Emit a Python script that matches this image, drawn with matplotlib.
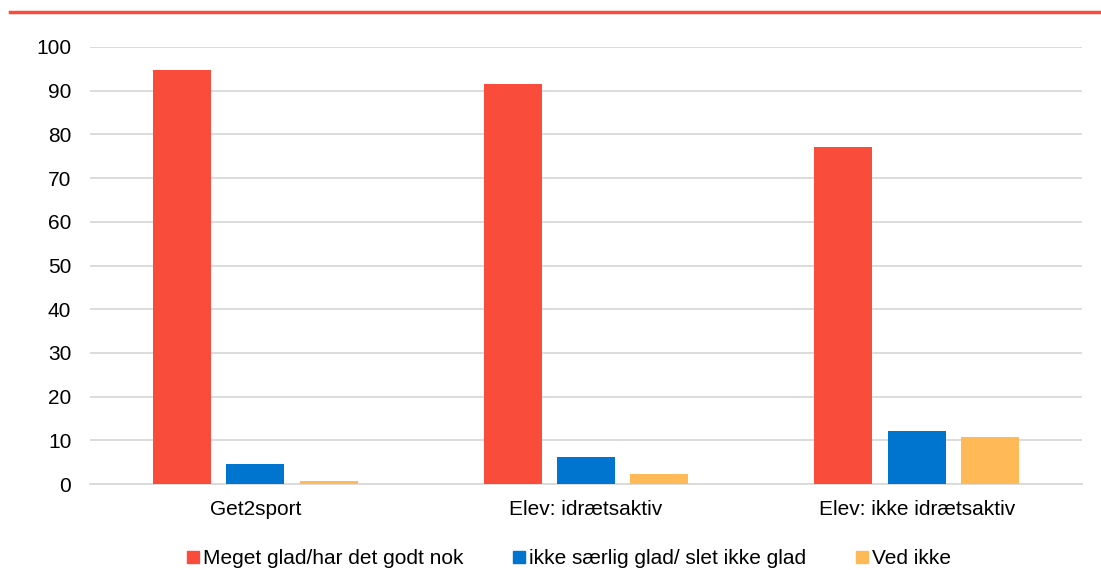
import numpy as np
import matplotlib.pyplot as plt
from matplotlib.patches import Patch

plt.rcParams['font.family'] = ['Liberation Sans', 'DejaVu Sans']

categories = ['Get2sport', 'Elev: idrætsaktiv', 'Elev: ikke idrætsaktiv']
series_names = ['Meget glad/har det godt nok', 'ikke særlig glad/ slet ikke glad', 'Ved ikke']
meget_glad = [94.7, 91.5, 77.1]
ikke_glad = [4.6, 6.2, 12.1]
ved_ikke = [0.7, 2.3, 10.8]
colors = ['#F94C3B', '#0075CF', '#FFB957']

fig = plt.figure(figsize=(11.01, 5.70), dpi=100)
ax = fig.add_axes([90 / 1101, 1 - 484 / 570, 992 / 1101, 437 / 570])

# red rule across the top
fig.add_artist(plt.Line2D([10 / 1101, 1.0], [1 - 12 / 570] * 2, color='#F94C3B', lw=2.5))

x = np.arange(len(categories))
step = 0.222
width = 0.175
for i, (vals, c) in enumerate(zip([meget_glad, ikke_glad, ved_ikke], colors)):
    ax.bar(x + (i - 1) * step, vals, width, color=c, zorder=3)

ax.set_xlim(-0.5, 2.5)
ax.set_ylim(0, 100)
ax.set_yticks(range(0, 101, 10))
ax.grid(axis='y', color='#D9D9D9', lw=1.3, zorder=0)
ax.set_xticks(x)
ax.set_xticklabels(categories)
ax.tick_params(axis='both', length=0, labelsize=15, colors='#000000')
ax.tick_params(axis='x', pad=11.5)
ax.tick_params(axis='y', pad=13.5)
for s in ['top', 'right', 'left']:
    ax.spines[s].set_visible(False)
ax.spines['bottom'].set_color('#D9D9D9')
ax.spines['bottom'].set_linewidth(1.3)

handles = [Patch(color=c, label=n) for c, n in zip(colors, series_names)]
fig.legend(handles=handles, loc='center', bbox_to_anchor=(569 / 1101, 1 - 559 / 570),
           ncol=3, frameon=False, fontsize=15, handlelength=0.55, handleheight=0.55,
           handletextpad=0.2, columnspacing=2.4)

fig.savefig('out.png', dpi=100)
